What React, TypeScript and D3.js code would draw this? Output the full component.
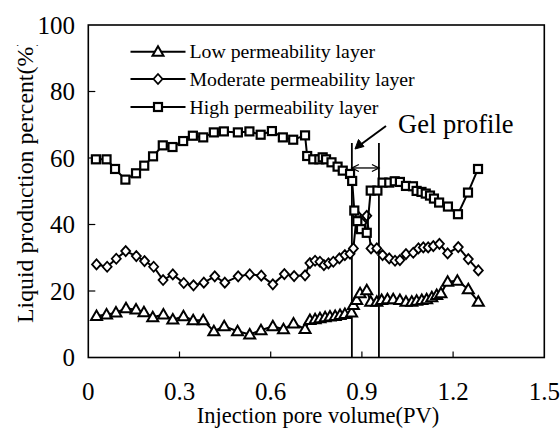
import React, { useEffect, useRef } from "react";
import * as d3 from "d3";

// injection pore volume (PV) vs liquid production percent (%)
const lowX = [0.027, 0.06, 0.091, 0.124, 0.157, 0.183, 0.212, 0.247, 0.278, 0.313, 0.345, 0.378, 0.413, 0.447, 0.491, 0.531, 0.568, 0.607, 0.642, 0.675, 0.713, 0.729, 0.746, 0.762, 0.779, 0.795, 0.812, 0.828, 0.844, 0.866, 0.872, 0.883, 0.894, 0.916, 0.929, 0.949, 0.965, 0.984, 1.003, 1.025, 1.045, 1.064, 1.08, 1.097, 1.113, 1.13, 1.146, 1.16, 1.182, 1.214, 1.25, 1.283];
const lowY = [12.5, 12.9, 13.5, 14.8, 14.4, 13.6, 12.1, 12.9, 11.4, 12.4, 11.2, 11.2, 7.9, 9.4, 7.9, 6.9, 8.2, 9.4, 8.5, 10.2, 8.6, 11.3, 11.5, 11.8, 12.1, 12.3, 12.5, 12.8, 13.1, 13.5, 15.8, 17.3, 19.3, 20.2, 16.8, 16.8, 17.3, 17.5, 17.5, 17.3, 16.8, 16.8, 17.1, 17.3, 17.5, 18.1, 18.8, 19.3, 22.8, 23.1, 20.5, 16.8];

const modX = [0.027, 0.062, 0.092, 0.123, 0.158, 0.185, 0.215, 0.246, 0.278, 0.314, 0.346, 0.38, 0.416, 0.449, 0.493, 0.531, 0.569, 0.607, 0.645, 0.677, 0.713, 0.729, 0.746, 0.762, 0.775, 0.79, 0.806, 0.826, 0.844, 0.861, 0.872, 0.883, 0.9, 0.916, 0.93, 0.949, 0.968, 0.99, 1.009, 1.025, 1.045, 1.069, 1.086, 1.102, 1.118, 1.135, 1.155, 1.182, 1.217, 1.25, 1.283];
const modY = [28.0, 27.3, 29.7, 32.0, 30.5, 29.0, 27.3, 23.3, 25.0, 22.4, 21.7, 22.5, 24.4, 22.5, 24.4, 25.0, 24.6, 22.0, 25.1, 24.5, 24.7, 28.4, 29.1, 28.8, 27.8, 28.3, 28.8, 29.8, 30.8, 31.2, 32.8, 42.9, 40.5, 42.6, 32.8, 32.8, 30.8, 29.8, 29.1, 29.3, 31.1, 31.5, 32.8, 33.1, 33.1, 33.5, 34.2, 31.3, 33.2, 29.6, 26.2];

const highX = [0.025, 0.06, 0.088, 0.122, 0.157, 0.184, 0.213, 0.245, 0.277, 0.312, 0.344, 0.378, 0.413, 0.446, 0.492, 0.53, 0.567, 0.604, 0.64, 0.674, 0.713, 0.72, 0.74, 0.76, 0.771, 0.782, 0.8, 0.82, 0.837, 0.861, 0.868, 0.875, 0.885, 0.897, 0.916, 0.929, 0.951, 0.968, 0.99, 1.008, 1.025, 1.045, 1.068, 1.08, 1.096, 1.11, 1.124, 1.137, 1.154, 1.183, 1.216, 1.249, 1.282];
const highY = [59.6, 59.6, 56.7, 53.5, 55.4, 57.7, 60.5, 63.8, 63.3, 65.1, 66.7, 66.2, 67.7, 68.0, 67.7, 68.0, 67.0, 68.1, 66.2, 65.5, 66.8, 60.6, 59.6, 59.6, 60.2, 59.6, 58.7, 57.4, 56.2, 55.2, 53.1, 44.2, 41.0, 38.6, 37.5, 50.2, 50.2, 52.6, 52.6, 53.0, 52.8, 51.6, 51.5, 50.1, 49.8, 49.3, 48.7, 47.8, 46.6, 45.4, 43.1, 49.6, 56.7];

const xTicks = [0, 0.3, 0.6, 0.9, 1.2, 1.5];
const xTickLabels = ["0", "0.3", "0.6", "0.9", "1.2", "1.5"];
const yTicks = [0, 20, 40, 60, 80, 100];

const legendLabels = ["Low permeability layer", "Moderate permeability layer", "High permeability layer"];
const gelLines = [0.867, 0.956];

const FONT = "'Liberation Serif', 'Times New Roman', serif";

const App = () => {
  const svgRef = useRef(null);

  useEffect(() => {
    const svg = d3.select(svgRef.current);
    svg.selectAll("*").remove();

    const x = d3.scaleLinear().domain([0, 1.5]).range([88.3, 544.3]);
    const y = d3.scaleLinear().domain([0, 100]).range([357.5, 25]);

    // frame
    svg.append("rect")
      .attr("x", x(0)).attr("y", y(100))
      .attr("width", x(1.5) - x(0)).attr("height", y(0) - y(100))
      .attr("fill", "none").attr("stroke", "#000").attr("stroke-width", 1.6);

    // ticks (inside)
    svg.selectAll(".xt").data(xTicks.slice(1, -1)).join("line")
      .attr("x1", d => x(d)).attr("x2", d => x(d))
      .attr("y1", y(0)).attr("y2", y(0) - 6)
      .attr("stroke", "#000").attr("stroke-width", 1.2);
    svg.selectAll(".yt").data(yTicks.slice(1, -1)).join("line")
      .attr("y1", d => y(d)).attr("y2", d => y(d))
      .attr("x1", x(0)).attr("x2", x(0) + 7)
      .attr("stroke", "#000").attr("stroke-width", 1.2);

    // tick labels
    svg.append("g").selectAll("text").data(xTicks).join("text")
      .attr("x", d => x(d)).attr("y", 400)
      .attr("text-anchor", "middle")
      .attr("font-family", FONT).attr("font-size", 25)
      .text((d, i) => xTickLabels[i]);
    svg.append("g").selectAll("text").data(yTicks).join("text")
      .attr("x", 75).attr("y", d => y(d) + 8.5)
      .attr("text-anchor", "end")
      .attr("font-family", FONT).attr("font-size", 25)
      .text(d => d);

    // axis titles
    svg.append("text")
      .attr("x", 318).attr("y", 423)
      .attr("text-anchor", "middle")
      .attr("font-family", FONT).attr("font-size", 22.5)
      .text("Injection pore volume(PV)");

    // y title is cut off at the top like in the source figure
    const clip = svg.append("defs").append("clipPath").attr("id", "ytclip");
    clip.append("rect").attr("x", 0).attr("y", 45).attr("width", 60).attr("height", 300);
    svg.append("g").attr("clip-path", "url(#ytclip)")
      .append("text")
      .attr("transform", "translate(33,323) rotate(-90)")
      .attr("font-family", FONT).attr("font-size", 23.8)
      .text("Liquid production percent(%)");

    // gel profile markers
    svg.selectAll(".gel").data(gelLines).join("line")
      .attr("x1", d => x(d)).attr("x2", d => x(d))
      .attr("y1", 143).attr("y2", y(0))
      .attr("stroke", "#000").attr("stroke-width", 1.8);

    const ay = y(57);
    svg.append("line")
      .attr("x1", x(gelLines[0])).attr("x2", x(gelLines[1]))
      .attr("y1", ay).attr("y2", ay)
      .attr("stroke", "#000").attr("stroke-width", 1.3);
    svg.append("path")
      .attr("d", `M${x(gelLines[0]) + 7},${ay - 3.5}L${x(gelLines[0])},${ay}L${x(gelLines[0]) + 7},${ay + 3.5}` +
        `M${x(gelLines[1]) - 7},${ay - 3.5}L${x(gelLines[1])},${ay}L${x(gelLines[1]) - 7},${ay + 3.5}`)
      .attr("fill", "none").attr("stroke", "#000").attr("stroke-width", 1.3);

    svg.append("line")
      .attr("x1", 386).attr("y1", 126).attr("x2", 356).attr("y2", 148)
      .attr("stroke", "#000").attr("stroke-width", 2);
    svg.append("path")
      .attr("d", "M355,149L358.5,139.5L364,146.5Z")
      .attr("fill", "#000").attr("stroke", "#000").attr("stroke-width", 1);
    svg.append("text")
      .attr("x", 398).attr("y", 133)
      .attr("font-family", FONT).attr("font-size", 26.5)
      .text("Gel profile");

    // series
    const tri = (g, cx, cy) => g.append("path")
      .attr("d", `M${cx},${cy - 5.5}L${cx + 5.5},${cy + 4}L${cx - 5.5},${cy + 4}Z`)
      .attr("fill", "#fff").attr("stroke", "#000").attr("stroke-width", 2);
    const dia = (g, cx, cy) => g.append("path")
      .attr("d", `M${cx},${cy - 5}L${cx + 4.5},${cy}L${cx},${cy + 5}L${cx - 4.5},${cy}Z`)
      .attr("fill", "#fff").attr("stroke", "#000").attr("stroke-width", 1.8);
    const sq = (g, cx, cy) => g.append("rect")
      .attr("x", cx - 4).attr("y", cy - 4).attr("width", 8).attr("height", 8)
      .attr("fill", "#fff").attr("stroke", "#000").attr("stroke-width", 2.2);

    const series = [
      { xs: lowX, ys: lowY, mark: tri },
      { xs: modX, ys: modY, mark: dia },
      { xs: highX, ys: highY, mark: sq },
    ];

    const line = d3.line().x(d => x(d[0])).y(d => y(d[1]));
    series.forEach(s => {
      const pts = s.xs.map((v, i) => [v, s.ys[i]]);
      svg.append("path").attr("d", line(pts))
        .attr("fill", "none").attr("stroke", "#000").attr("stroke-width", 2);
      const g = svg.append("g");
      pts.forEach(p => s.mark(g, x(p[0]), y(p[1])));
    });

    // legend
    const legY = [51.7, 79, 107];
    series.forEach((s, i) => {
      svg.append("line")
        .attr("x1", 130.5).attr("x2", 185.5)
        .attr("y1", legY[i]).attr("y2", legY[i])
        .attr("stroke", "#000").attr("stroke-width", 2);
      s.mark(svg, 158, legY[i]);
      svg.append("text")
        .attr("x", 189.5).attr("y", legY[i] + 6.5)
        .attr("font-family", FONT).attr("font-size", 19.8)
        .text(legendLabels[i]);
    });

    return () => {
      svg.selectAll("*").remove();
    };
  }, []);

  return (
    <svg
      ref={svgRef}
      width={560}
      height={429}
      style={{ position: "absolute", left: 0, top: 0, background: "#fff" }}
    />
  );
};

export default App;
